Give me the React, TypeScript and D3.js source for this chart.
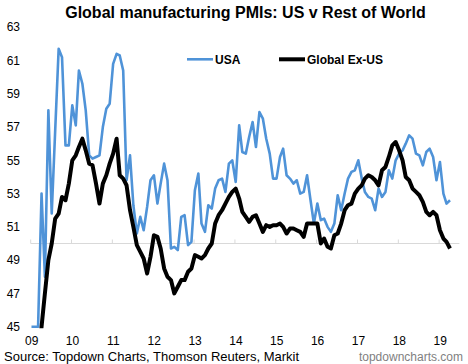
import { useEffect, useRef } from "react";
import * as d3 from "d3";

// monthly readings, Jan 2009 onwards (index 0 = Jan 2009)
const usaPmi = [
  45, 45, 45, 53.0, 48.0, 58.0, 51.8, 56.8, 61.7, 61.2, 55.9, 55.9,
  58.3, 57.1, 60.4, 59.6, 58.0, 55.3, 55.1, 55.2, 55.3, 57.0, 58.1, 58.4,
  60.8, 61.4, 61.3, 60.4, 53.8, 55.3, 52.3, 50.6, 51.6, 50.8, 52.2, 53.8,
  54.1, 52.4, 53.6, 54.8, 53.8, 49.7, 49.8, 49.6, 51.6, 51.7, 49.9, 50.1,
  53.2, 54.2, 51.2, 50.7, 52.3, 52.1, 53.3, 53.8, 53.9, 53.1, 54.8, 55.0,
  53.7, 57.1, 55.5, 55.4, 56.4, 57.3, 55.8, 57.9, 57.5, 56.3, 55.4, 53.9,
  53.9, 55.2, 55.7, 54.1, 53.9, 53.6, 53.8, 53.0, 53.1, 54.1, 52.6, 51.2,
  52.4, 51.4, 51.5, 51.0, 50.7, 51.2, 52.9, 52.0, 53.0, 53.9, 54.3, 54.4,
  55.0, 53.9, 53.1, 52.8, 52.7, 52.0, 53.3, 52.8, 53.1, 54.4, 53.9, 55.0,
  55.4, 55.6, 56.0, 56.5, 56.3, 55.4, 55.3, 54.7, 55.5, 55.7, 55.2, 53.8,
  54.9, 53.0, 52.4, 52.6,
];

const globalExUsPmi = [
  39.5, 41.0, 43.0, 45.0, 47.0, 49.0, 50.0, 51.5, 51.8, 52.8, 52.6, 53.6,
  55.0, 55.3, 55.8, 56.3, 55.6, 54.8, 54.7, 53.6, 52.4, 53.6, 54.1, 54.8,
  55.4, 56.3, 54.1, 53.9, 53.5, 52.0, 51.0, 49.9, 49.5, 49.1, 48.2, 49.2,
  50.5, 50.4, 49.7, 48.5, 48.0, 47.8, 47.0, 47.4, 47.8, 47.8, 48.3, 48.5,
  49.3, 49.2, 49.1, 49.3, 49.7, 50.0, 51.2, 51.7, 52.0, 52.4, 52.8, 53.1,
  53.3, 52.7, 51.9, 51.6, 51.3, 51.6, 51.7, 51.2, 50.7, 51.1, 51.0, 51.1,
  51.1, 51.2, 51.0, 50.6, 50.9, 50.9, 50.8, 50.7, 50.4, 51.2, 51.2, 51.2,
  51.2, 50.0, 50.3, 49.8, 49.7, 50.5, 50.6, 51.2, 52.0, 52.3, 52.4, 53.0,
  53.3, 53.5, 53.9, 54.1, 54.0, 53.8, 53.5, 54.4, 54.6, 55.2, 55.9, 56.1,
  55.6, 55.0, 54.0, 53.8, 53.3, 53.1, 52.9, 52.5, 51.9, 51.7, 51.9, 51.7,
  50.8, 50.3, 50.1, 49.7,
];

const yTicks = [45, 47, 49, 51, 53, 55, 57, 59, 61, 63];
const yearLabels = ["09", "10", "11", "12", "13", "14", "15", "16", "17", "18", "19"];
const seriesNames = ["USA", "Global Ex-US"];

const FONT = "'Liberation Sans', Arial, sans-serif";
const BLUE = "#4f93d8";

export default function App() {
  const ref = useRef<SVGSVGElement>(null);

  useEffect(() => {
    if (!ref.current) return;
    const svg = d3.select(ref.current);
    svg.selectAll("*").remove();

    const width = 468;
    const height = 364;
    const left = 30.7;
    const top = 27.2;
    const bottom = 326.7;

    const x = d3
      .scaleTime()
      .domain([new Date(2009, 0, 1), new Date(2019, 6, 1)])
      .range([left, 459.4]);
    const y = d3.scaleLinear().domain([45, 63]).range([bottom, top]);
    const monthDate = (i: number) => new Date(2009, i, 8);

    svg.append("rect").attr("width", width).attr("height", height).attr("fill", "#ffffff");

    // title
    svg
      .append("text")
      .attr("x", 245.5)
      .attr("y", 18)
      .attr("text-anchor", "middle")
      .attr("font-family", FONT)
      .attr("font-weight", "bold")
      .attr("font-size", "16px")
      .attr("fill", "#000")
      .text("Global manufacturing PMIs: US v Rest of World");

    // y labels
    svg
      .append("g")
      .selectAll("text")
      .data(yTicks)
      .enter()
      .append("text")
      .attr("x", 20)
      .attr("y", (d) => y(d))
      .attr("dy", "0.35em")
      .attr("text-anchor", "end")
      .attr("font-family", FONT)
      .attr("font-size", "12px")
      .attr("fill", "#000")
      .text((d) => d);

    // axis line crossing at 50
    const years = d3.timeYear.range(new Date(2009, 0, 1), new Date(2020, 0, 1));
    const ax = svg.append("g");
    ax.append("line")
      .attr("x1", left)
      .attr("x2", x(new Date(2019, 6, 1)))
      .attr("y1", y(50))
      .attr("y2", y(50))
      .attr("stroke", "#d9d9d9")
      .attr("stroke-width", 1);
    ax.selectAll("line.tick")
      .data(years)
      .enter()
      .append("line")
      .attr("class", "tick")
      .attr("x1", (d) => x(d))
      .attr("x2", (d) => x(d))
      .attr("y1", y(50) - 4)
      .attr("y2", y(50))
      .attr("stroke", "#d9d9d9")
      .attr("stroke-width", 1);

    svg
      .append("g")
      .selectAll("text")
      .data(years)
      .enter()
      .append("text")
      .attr("x", (d) => x(d) + 1)
      .attr("y", 340.5)
      .attr("dy", "0.35em")
      .attr("text-anchor", "middle")
      .attr("font-family", FONT)
      .attr("font-size", "12px")
      .attr("fill", "#000")
      .text((_, i) => yearLabels[i]);

    // lines
    svg
      .append("clipPath")
      .attr("id", "plot-clip")
      .append("rect")
      .attr("x", left - 2)
      .attr("y", top)
      .attr("width", 440)
      .attr("height", bottom - top + 1.5);

    const line = d3
      .line<number>()
      .x((_, i) => x(monthDate(i)))
      .y((d) => y(d));

    const plot = svg.append("g").attr("clip-path", "url(#plot-clip)");
    plot
      .append("path")
      .attr("d", line(usaPmi))
      .attr("fill", "none")
      .attr("stroke", BLUE)
      .attr("stroke-width", 2.6)
      .attr("stroke-linejoin", "round");
    plot
      .append("path")
      .attr("d", line(globalExUsPmi))
      .attr("fill", "none")
      .attr("stroke", "#000000")
      .attr("stroke-width", 4)
      .attr("stroke-linejoin", "round");

    // legend
    const legend = [
      { name: seriesNames[0], color: BLUE, w: 2.6, x0: 187 },
      { name: seriesNames[1], color: "#000000", w: 4, x0: 279 },
    ];
    const lg = svg.append("g");
    legend.forEach((d) => {
      lg.append("line")
        .attr("x1", d.x0)
        .attr("x2", d.x0 + 26)
        .attr("y1", 59.3)
        .attr("y2", 59.3)
        .attr("stroke", d.color)
        .attr("stroke-width", d.w);
      lg.append("text")
        .attr("x", d.x0 + 28)
        .attr("y", 59.3)
        .attr("dy", "0.35em")
        .attr("font-family", FONT)
        .attr("font-weight", "bold")
        .attr("font-size", "12px")
        .attr("fill", "#000")
        .text(d.name);
    });

    // footer
    svg
      .append("text")
      .attr("x", 4)
      .attr("y", 356)
      .attr("dy", "0.35em")
      .attr("font-family", FONT)
      .attr("font-size", "13px")
      .attr("fill", "#000")
      .text("Source: Topdown Charts, Thomson Reuters, Markit");
    svg
      .append("text")
      .attr("x", 463)
      .attr("y", 356.5)
      .attr("dy", "0.35em")
      .attr("text-anchor", "end")
      .attr("font-family", FONT)
      .attr("font-size", "12px")
      .attr("fill", "#7f7f7f")
      .text("topdowncharts.com");
  }, []);

  return (
    <svg
      ref={ref}
      width={468}
      height={364}
      style={{ position: "absolute", left: 0, top: 0, display: "block" }}
    />
  );
}
